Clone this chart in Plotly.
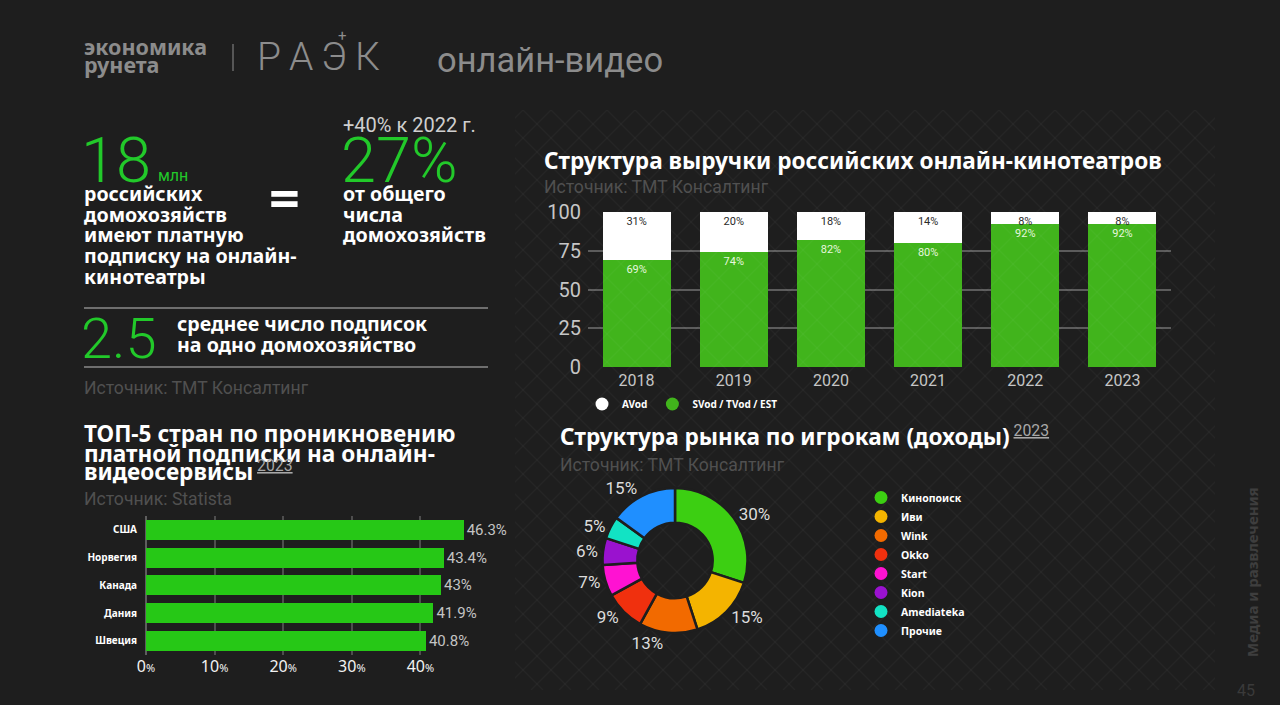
import plotly.graph_objects as go

W, H = 1280, 705

# ---------------- data ----------------
years = ["2018", "2019", "2020", "2021", "2022", "2023"]
svod = [69, 74, 82, 80, 92, 92]          # SVod / TVod / EST, %
avod = [31, 20, 18, 14, 8, 8]            # AVod, % (labels)

countries = ["США", "Норвегия", "Канада", "Дания", "Швеция"]
penetration = [46.3, 43.4, 43.0, 41.9, 40.8]
pen_labels = ["46.3%", "43.4%", "43%", "41.9%", "40.8%"]
pen_ticks = [0, 10, 20, 30, 40]

players = ["Кинопоиск", "Иви", "Wink", "Okko", "Start", "Kion", "Amediateka", "Прочие"]
shares = [30, 15, 13, 9, 7, 6, 5, 15]
player_colors = ["#3ccf12", "#f4b400", "#f26a00", "#f0300e", "#ff12d2", "#9a12cf", "#12e3c4", "#1f8fff"]

BG = "#1e1e1e"
GREEN_TXT = "#22c92a"
BAR_GREEN = "#41b41c"
HBAR_GREEN = "#26c816"
SANS = "Noto Sans"


def px(x):
    return x / W


def py(y):
    return 1 - y / H


fig = go.Figure()

# ---------------- stacked revenue structure ----------------
fig.add_bar(
    x=years, y=svod, name="SVod / TVod / EST", width=0.7,
    marker=dict(color=BAR_GREEN, line=dict(width=0)),
    text=[f"{v}%" for v in svod], textposition="inside", insidetextanchor="end",
    constraintext="none", textfont=dict(family="Roboto", size=11, color="#e6f7df"),
    showlegend=False, xaxis="x", yaxis="y", hoverinfo="skip",
)
fig.add_bar(
    x=years, y=[100 - v for v in svod], name="AVod", width=0.7,
    marker=dict(color="#ffffff", line=dict(width=0)),
    text=[f"{v}%" for v in avod], textposition="inside", insidetextanchor="end",
    constraintext="none", textfont=dict(family="Roboto", size=11, color="#2a2a2a"),
    showlegend=False, xaxis="x", yaxis="y", hoverinfo="skip",
)
# legend entries with round markers
fig.add_scatter(x=[None], y=[None], mode="markers", name="AVod",
                marker=dict(symbol="circle", size=13, color="#ffffff"),
                legend="legend", xaxis="x", yaxis="y")
fig.add_scatter(x=[None], y=[None], mode="markers", name="SVod / TVod / EST",
                marker=dict(symbol="circle", size=13, color=BAR_GREEN),
                legend="legend", xaxis="x", yaxis="y")

# ---------------- TOP-5 countries ----------------
fig.add_bar(
    x=penetration, y=countries, orientation="h", width=0.72,
    marker=dict(color=HBAR_GREEN, line=dict(width=0)),
    text=pen_labels, textposition="outside", cliponaxis=False,
    textfont=dict(family="Roboto", size=15, color="#c4c4c4"),
    showlegend=False, xaxis="x2", yaxis="y2", hoverinfo="skip",
)

# ---------------- market share donut ----------------
cx, cy, r = 675, 560.5, 72.5
fig.add_pie(
    labels=players, values=shares, hole=0.52, sort=False, direction="clockwise",
    rotation=0,
    marker=dict(colors=player_colors, line=dict(color=BG, width=2.5)),
    texttemplate="%{value}%", textposition="outside",
    textfont=dict(family="Roboto", size=17, color="#dcdcdc"),
    domain=dict(x=[px(cx - r), px(cx + r)], y=[py(cy + r), py(cy - r)]),
    showlegend=False, hoverinfo="skip",
)
for name, col in zip(players, player_colors):
    fig.add_scatter(x=[None], y=[None], mode="markers", name=name,
                    marker=dict(symbol="circle", size=13, color=col),
                    legend="legend2", xaxis="x", yaxis="y")

# ---------------- background diamond pattern (decor) ----------------
shapes = []
x0p, x1p, y0p, y1p = 515, 1215, 110, 690
step = 28
hgt = y1p - y0p
s = x0p - hgt
while s < x1p + hgt:
    shapes.append(dict(type="line", xref="x3", yref="y3", x0=s, y0=y0p, x1=s + hgt, y1=y1p,
                       line=dict(color="rgba(255,255,255,0.03)", width=1.5), layer="below"))
    shapes.append(dict(type="line", xref="x3", yref="y3", x0=s, y0=y0p, x1=s - hgt, y1=y1p,
                       line=dict(color="rgba(255,255,255,0.03)", width=1.5), layer="below"))
    s += step

# separators in the left panel
for yy in (308, 367):
    shapes.append(dict(type="line", xref="paper", yref="paper", x0=px(84), x1=px(488),
                       y0=py(yy), y1=py(yy), line=dict(color="#8a8a8a", width=1.5)))
# header divider
shapes.append(dict(type="line", xref="paper", yref="paper", x0=px(233), x1=px(233),
                   y0=py(44), y1=py(71), line=dict(color="#6a6a6a", width=1.5)))

# ---------------- texts ----------------
ann = []


def T(text, x, y, size, color="#ffffff", family=SANS, weight="normal",
      xanchor="left", yanchor="middle", angle=0):
    ann.append(dict(text=text, x=px(x), y=py(y), xref="paper", yref="paper",
                    xanchor=xanchor, yanchor=yanchor, showarrow=False, textangle=angle,
                    font=dict(family=family, size=size, color=color, weight=weight)))


GRAY_H = "#8c8c8c"
SRC = "#505050"
YEAR_SUP = ("\u2009<sup><span style='color:#a8a8a8;font-weight:normal;font-family:Roboto'>"
            "<u>2023</u></span></sup>")
# header
T("экономика", 82, 47, 21.5, GRAY_H, weight="bold")
T("рунета", 82, 64, 21.5, GRAY_H, weight="bold")
T("Р\u2009А\u2009Э\u2009К", 255, 57, 39, GRAY_H, family="Roboto", weight=300)
T("+", 342, 36, 15, GRAY_H, family="Roboto", xanchor="center")
T("онлайн-видео", 435, 60, 34.5, GRAY_H, family="Roboto")

# key figures
T("18", 79, 160, 63, GREEN_TXT, family="Roboto", weight=300)
T("млн", 156, 175, 16, GREEN_TXT, family="Roboto")
T("+40% к 2022 г.", 341, 125, 20, "#cfcfcf", family="Roboto")
T("27%", 339, 160, 63, GREEN_TXT, family="Roboto", weight=300)
T("=", 284, 197, 54, "#ffffff", weight="bold", xanchor="center")

BODY = 19.6
left_lines = ["российских", "домохозяйств", "имеют платную", "подписку на онлайн-", "кинотеатры"]
for i, line in enumerate(left_lines):
    T(line, 82, 194 + i * 20.5, BODY, weight="bold")
mid_lines = ["от общего", "числа", "домохозяйств"]
for i, line in enumerate(mid_lines):
    T(line, 341, 194 + i * 20.5, BODY, weight="bold")

T("2.5", 79, 339, 56, GREEN_TXT, family="Roboto", weight=300)
T("среднее число подписок", 175, 323, BODY, weight="bold")
T("на одно домохозяйство", 175, 344, BODY, weight="bold")
T("Источник: ТМТ Консалтинг", 82, 388, 17.6, SRC, family="Roboto")

# chart titles
TITLE = 22.6
T("Структура выручки российских онлайн-кинотеатров", 542, 160, TITLE, weight="bold")
T("Источник: ТМТ Консалтинг", 542, 187, 17.6, SRC, family="Roboto")

T("Структура рынка по игрокам (доходы)" + YEAR_SUP, 558, 436, TITLE, weight="bold")
T("Источник: ТМТ Консалтинг", 558, 465, 17.6, SRC, family="Roboto")

top_lines = ["ТОП-5 стран по проникновению", "платной подписки на онлайн-", "видеосервисы" + YEAR_SUP]
for i, line in enumerate(top_lines):
    T(line, 82, 433 + i * 20 - (2 if i == 2 else 0), TITLE, weight="bold")
T("Источник: Statista", 82, 499, 17.6, SRC, family="Roboto")

# side texts
T("Медиа и развлечения", 1252, 572, 15, "#3e3e3e", weight="bold", xanchor="center", angle=-90)
T("45", 1246, 690, 16, "#3a3a3a", family="Roboto", xanchor="center")

# ---------------- layout ----------------
fig.update_layout(
    width=W, height=H, margin=dict(l=0, r=0, t=0, b=0, pad=0, autoexpand=False),
    paper_bgcolor=BG, plot_bgcolor="rgba(0,0,0,0)",
    barmode="stack", bargap=0.3,
    font=dict(family=SANS, color="#ffffff"),
    shapes=shapes, annotations=ann,
    xaxis=dict(domain=[px(588), px(1171)], anchor="y", type="category",
               categoryorder="array", categoryarray=years, range=[-0.5, 5.5],
               showgrid=False, showline=False, zeroline=False, ticks="",
               tickfont=dict(family="Roboto", size=16, color="#c6c6c6"), ticklabelstandoff=2),
    yaxis=dict(domain=[py(367.3), py(211.7)], anchor="x", range=[0, 100],
               tickvals=[0, 25, 50, 75, 100], showgrid=True, gridcolor="#5c5c5c", gridwidth=1.5,
               zeroline=False, showline=False, ticks="", ticklabelstandoff=6,
               tickfont=dict(family="Roboto", size=20, color="#c6c6c6")),
    xaxis2=dict(domain=[px(146), px(489)], anchor="y2", range=[0, 50],
                tickvals=pen_ticks,
                ticktext=[f"{t}<span style='font-size:11px'>%</span>" for t in pen_ticks],
                showgrid=True, gridcolor="#4e4e4e", gridwidth=2,
                zeroline=True, zerolinecolor="#5e5e5e", zerolinewidth=2,
                showline=False, ticks="", ticklabelstandoff=0,
                tickfont=dict(family="Noto Sans", size=16, color="#f2f2f2")),
    yaxis2=dict(domain=[py(654.6), py(516)], anchor="x2", type="category",
                categoryorder="array", categoryarray=countries, autorange="reversed",
                showgrid=False, zeroline=False, showline=False, ticks="", ticklabelstandoff=8,
                tickfont=dict(family=SANS, size=10, color="#ffffff", weight="bold")),
    xaxis3=dict(domain=[px(x0p), px(x1p)], anchor="y3", range=[x0p, x1p], visible=False,
                fixedrange=True),
    yaxis3=dict(domain=[py(y1p), py(y0p)], anchor="x3", range=[y1p, y0p], visible=False,
                fixedrange=True),
    legend=dict(orientation="h", x=px(582), y=py(404), xanchor="left", yanchor="middle",
                traceorder="normal",
                bgcolor="rgba(0,0,0,0)", font=dict(family=SANS, size=10, color="#ffffff", weight="bold"),
                itemwidth=30, itemclick=False, itemdoubleclick=False),
    legend2=dict(orientation="v", x=px(861), y=py(483), xanchor="left", yanchor="top",
                 traceorder="normal",
                 bgcolor="rgba(0,0,0,0)", font=dict(family=SANS, size=10.5, color="#ffffff", weight="bold"),
                 tracegroupgap=0, itemwidth=30, itemclick=False, itemdoubleclick=False),
)
# dummy scatter for pattern subplot so axes x3/y3 exist
fig.add_scatter(x=[None], y=[None], xaxis="x3", yaxis="y3", showlegend=False, hoverinfo="skip")

fig.write_html(
    "out.html",
    config={"displayModeBar": False},
    post_script="document.body.style.margin='0';document.body.style.padding='0';"
                "document.body.style.overflow='hidden';document.documentElement.style.overflow='hidden';",
)
